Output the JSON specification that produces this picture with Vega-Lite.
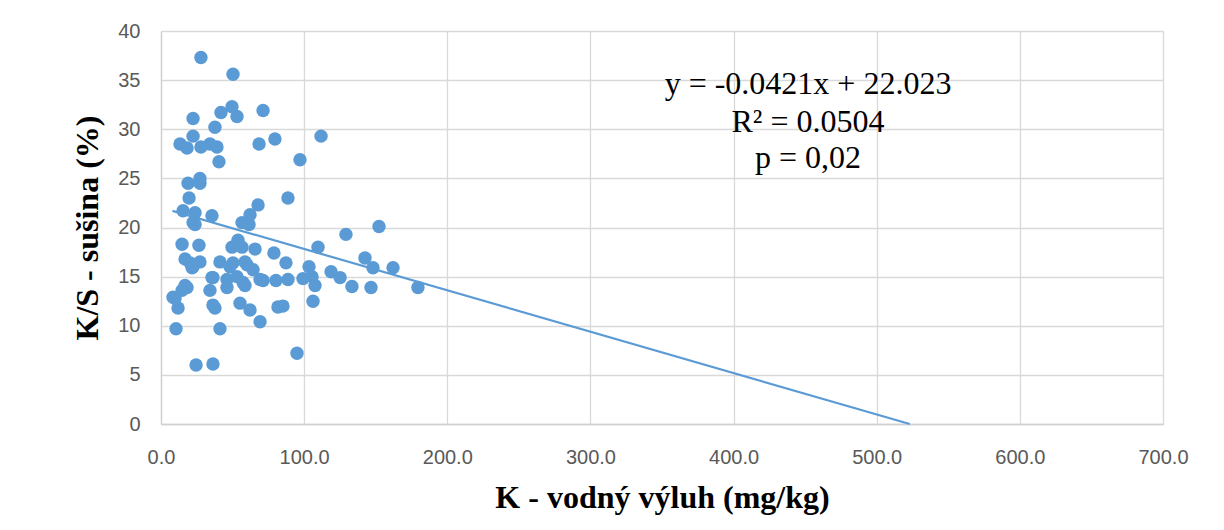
{
  "$schema": "https://vega.github.io/schema/vega-lite/v6.json",
  "autosize": {"type": "none"},
  "width": 1002,
  "height": 393,
  "padding": {"left": 161, "top": 31, "right": 61, "bottom": 106},
  "background": "white",
  "config": {
    "view": {"stroke": null},
    "axis": {
      "grid": true,
      "gridColor": "#d9d9d9",
      "gridWidth": 1.3,
      "domainColor": "#d0d0d0",
      "domainWidth": 1.3,
      "ticks": false,
      "labelFont": "Liberation Sans",
      "labelFontSize": 20,
      "labelColor": "#595959",
      "titleFont": "Liberation Serif",
      "titleFontSize": 32,
      "titleFontWeight": "bold",
      "titleColor": "#000000"
    }
  },
  "datasets": {
    "pts": [
      {"k": 27.9, "ks": 37.3}, {"k": 50.3, "ks": 35.6}, {"k": 49.6, "ks": 32.3}, {"k": 41.9, "ks": 31.7},
      {"k": 53.1, "ks": 31.3}, {"k": 22.4, "ks": 31.1}, {"k": 71.3, "ks": 31.9}, {"k": 111.8, "ks": 29.3},
      {"k": 37.7, "ks": 30.2}, {"k": 79.6, "ks": 29.0}, {"k": 22.4, "ks": 29.3}, {"k": 13.3, "ks": 28.5},
      {"k": 18.2, "ks": 28.1}, {"k": 27.9, "ks": 28.2}, {"k": 34.2, "ks": 28.5}, {"k": 39.1, "ks": 28.2},
      {"k": 68.5, "ks": 28.5}, {"k": 40.5, "ks": 26.7}, {"k": 97.1, "ks": 26.9}, {"k": 18.9, "ks": 24.5},
      {"k": 27.2, "ks": 25.0}, {"k": 27.2, "ks": 24.5}, {"k": 67.8, "ks": 22.3}, {"k": 88.7, "ks": 23.0},
      {"k": 19.6, "ks": 23.0}, {"k": 15.4, "ks": 21.7}, {"k": 23.8, "ks": 21.5}, {"k": 35.6, "ks": 21.2},
      {"k": 22.4, "ks": 20.5}, {"k": 62.2, "ks": 21.3}, {"k": 56.6, "ks": 20.5}, {"k": 14.7, "ks": 18.3},
      {"k": 26.5, "ks": 18.2}, {"k": 16.8, "ks": 16.8}, {"k": 20.3, "ks": 16.4}, {"k": 27.2, "ks": 16.5},
      {"k": 21.7, "ks": 15.9}, {"k": 49.6, "ks": 18.0}, {"k": 53.8, "ks": 18.7}, {"k": 56.6, "ks": 18.0},
      {"k": 65.7, "ks": 17.8}, {"k": 78.9, "ks": 17.4}, {"k": 41.2, "ks": 16.5}, {"k": 48.2, "ks": 16.0},
      {"k": 58.7, "ks": 16.5}, {"k": 64.3, "ks": 15.7}, {"k": 35.6, "ks": 14.9}, {"k": 46.1, "ks": 14.7},
      {"k": 53.1, "ks": 15.0}, {"k": 57.3, "ks": 14.4}, {"k": 69.2, "ks": 14.7}, {"k": 80.3, "ks": 14.6},
      {"k": 71.3, "ks": 14.6}, {"k": 88.7, "ks": 14.7}, {"k": 99.2, "ks": 14.8}, {"k": 105.5, "ks": 15.0},
      {"k": 107.6, "ks": 14.1}, {"k": 103.4, "ks": 16.0}, {"k": 87.3, "ks": 16.4}, {"k": 109.7, "ks": 18.0},
      {"k": 129.2, "ks": 19.3}, {"k": 152.3, "ks": 20.1}, {"k": 142.5, "ks": 16.9}, {"k": 148.1, "ks": 15.9},
      {"k": 162.1, "ks": 15.9}, {"k": 118.8, "ks": 15.5}, {"k": 125.1, "ks": 14.9}, {"k": 133.4, "ks": 14.0},
      {"k": 146.7, "ks": 13.9}, {"k": 179.5, "ks": 13.9}, {"k": 106.2, "ks": 12.5}, {"k": 81.7, "ks": 11.9},
      {"k": 85.2, "ks": 12.0}, {"k": 69.2, "ks": 10.4}, {"k": 95.0, "ks": 7.2}, {"k": 8.4, "ks": 12.9},
      {"k": 18.2, "ks": 13.9}, {"k": 16.8, "ks": 14.1}, {"k": 9.8, "ks": 12.8}, {"k": 11.9, "ks": 11.8},
      {"k": 10.5, "ks": 9.7}, {"k": 41.2, "ks": 9.7}, {"k": 24.5, "ks": 6.0}, {"k": 36.3, "ks": 6.1},
      {"k": 34.2, "ks": 13.6}, {"k": 36.3, "ks": 14.9}, {"k": 36.3, "ks": 12.1}, {"k": 37.7, "ks": 11.8},
      {"k": 46.1, "ks": 13.9}, {"k": 55.2, "ks": 12.3}, {"k": 62.2, "ks": 11.6}, {"k": 58.7, "ks": 14.1},
      {"k": 22.4, "ks": 16.0}, {"k": 50.3, "ks": 16.4}, {"k": 60.1, "ks": 16.2}, {"k": 61.5, "ks": 20.3},
      {"k": 23.8, "ks": 20.3}, {"k": 14.7, "ks": 13.6}
    ],
    "trend": [
      {"k": 8.0, "ks": 21.69},
      {"k": 523.1, "ks": 0.0}
    ],
    "labels": [
      {"k": 452, "ks": 33.6, "t": "y = -0.0421x + 22.023"},
      {"k": 452, "ks": 29.7, "t": "R² = 0.0504"},
      {"k": 452, "ks": 26.1, "t": "p = 0,02"}
    ]
  },
  "layer": [
    {
      "data": {"name": "pts"},
      "mark": {"type": "point", "filled": true, "size": 180, "color": "#5b9bd5", "opacity": 1},
      "encoding": {
        "x": {
          "field": "k", "type": "quantitative",
          "scale": {"domain": [0, 700], "nice": false, "zero": true},
          "axis": {"values": [0, 100, 200, 300, 400, 500, 600, 700], "format": ".1f", "labelFlush": false, "labelPadding": 23, "title": "K - vodný výluh (mg/kg)", "titlePadding": 15}
        },
        "y": {
          "field": "ks", "type": "quantitative",
          "scale": {"domain": [0, 40], "nice": false},
          "axis": {"values": [0, 5, 10, 15, 20, 25, 30, 35, 40], "labelFlush": false, "labelPadding": 21, "title": "K/S - sušina (%)", "titlePadding": 13}
        }
      }
    },
    {
      "data": {"name": "trend"},
      "mark": {"type": "line", "color": "#5b9bd5", "strokeWidth": 2.2},
      "encoding": {
        "x": {"field": "k", "type": "quantitative"},
        "y": {"field": "ks", "type": "quantitative"}
      }
    },
    {
      "data": {"name": "labels"},
      "mark": {"type": "text", "font": "Liberation Serif", "fontSize": 32, "color": "#000000", "align": "center", "baseline": "alphabetic"},
      "encoding": {
        "x": {"field": "k", "type": "quantitative"},
        "y": {"field": "ks", "type": "quantitative"},
        "text": {"field": "t"}
      }
    }
  ]
}
